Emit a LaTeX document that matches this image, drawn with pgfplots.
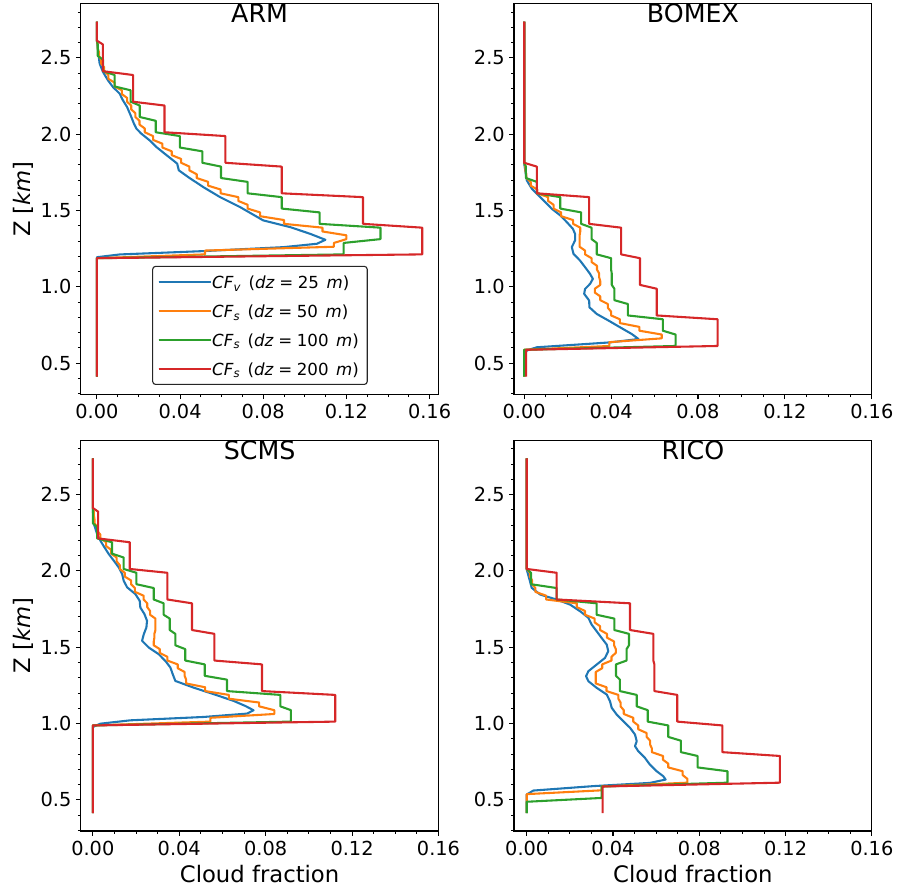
\documentclass[border=0pt]{standalone}
\usepackage{fontspec}
\setmainfont{DejaVu Sans}
\usepackage{pgfplots}
\pgfplotsset{compat=1.18}
\definecolor{tabblue}{HTML}{1F77B4}
\definecolor{taborange}{HTML}{FF7F0E}
\definecolor{tabgreen}{HTML}{2CA02C}
\definecolor{tabred}{HTML}{D62728}
\newcommand{\ticksize}{\fontsize{19.4}{23}\selectfont}
\newcommand{\legsize}{\fontsize{16.7}{20}\selectfont}
\newcommand{\labsize}{\fontsize{22.8}{27}\selectfont}
\newcommand{\titlesize}{\fontsize{25.4}{30}\selectfont}
\newcommand{\leg}[2]{\textit{CF}\textsubscript{\textit{#1}}\hspace{0.45em}(\textit{dz}\hspace{0.28em}=\hspace{0.28em}#2\hspace{0.45em}\textit{m})\hspace*{3.4bp}}
\pgfplotsset{
  panel/.style={
    scale only axis, width=357.8bp, height=390.5bp, anchor=south west,
    ymin=0.296, ymax=2.854, xmax=0.16,
    xtick={0,0.04,0.08,0.12,0.16},
    minor xtick={0.01,0.02,0.03,0.05,0.06,0.07,0.09,0.10,0.11,0.13,0.14,0.15},
    ytick={0.5,1.0,1.5,2.0,2.5},
    minor ytick={0.3,0.4,0.6,0.7,0.8,0.9,1.1,1.2,1.3,1.4,1.6,1.7,1.8,1.9,2.1,2.2,2.3,2.4,2.6,2.7,2.8},
    tick pos=left, tick align=outside,
    major tick length=4.9bp, minor tick length=2.8bp,
    every tick/.append style={black, line width=1.1bp},
    every minor tick/.append style={line width=0.9bp},
    axis line style={black, line width=1.1bp},
    /pgf/number format/assume math mode=true,
    xticklabel style={/pgf/number format/fixed, /pgf/number format/fixed zerofill, /pgf/number format/precision=2, inner sep=0pt, anchor=north},
    yticklabel style={/pgf/number format/fixed, /pgf/number format/fixed zerofill, /pgf/number format/precision=1, inner sep=0pt, anchor=east},
    xticklabel shift=4.9bp, yticklabel shift=4.2bp,
    tick label style={font=\ticksize},
    title style={at={(axis description cs:0.5,0.936)}, anchor=base, font=\titlesize, inner sep=0pt},
    xlabel style={at={(axis description cs:0.5,-0.1306)}, anchor=base, font=\labsize, inner sep=0pt},
    ylabel style={at={(axis description cs:-0.1613,0.5)}, anchor=center, font=\labsize, inner sep=0pt},
    every axis plot/.append style={line width=2.08bp, line join=round, no markers},
    legend image code/.code={\draw[##1] (0bp,0bp) -- (36.7bp,0bp); \path (0bp,0bp) -- (52.4bp,0bp);},
  }
}
\begin{document}
\begin{tikzpicture}
\useasboundingbox (0,0) rectangle (899bp,886bp);
% ARM
\begin{axis}[panel, at={(80.7bp,491.7bp)}, xmin=-0.0078, xmax=0.1643, title={ARM}, ylabel={Z [\textit{km}]},
  legend style={at={(axis description cs:0.501,0.0238)}, anchor=south, draw=black!85, line width=1.1bp, rounded corners=3bp,
    font=\legsize, inner xsep=5bp, inner ysep=7.7bp, row sep=12.9bp, column sep=0pt,
    nodes={inner sep=0pt, text height=14.5bp, text depth=1.5bp}},
  legend cell align=left]
\addplot[tabblue] coordinates {(0,2.7375)(0,2.612)(0.0013,2.463)(0.0029,2.408)(0.0053,2.353)(0.0077,2.309)(0.0109,2.266)(0.0125,2.222)(0.0145,2.178)(0.0162,2.124)(0.0178,2.069)(0.0190,2.036)(0.0214,2.003)(0.0254,1.959)(0.0286,1.916)(0.0326,1.872)(0.0367,1.828)(0.0386,1.807)(0.0394,1.763)(0.0439,1.719)(0.0512,1.653)(0.0592,1.588)(0.0689,1.522)(0.0745,1.478)(0.0800,1.435)(0.0930,1.391)(0.1026,1.347)(0.1099,1.308)(0.1058,1.282)(0.0898,1.260)(0.0512,1.234)(0.0109,1.212)(0,1.194)(0,0.4125)};
\addlegendentry{\leg{v}{25}}
\addplot[taborange] coordinates {(0,2.7375)(0,2.6125)(0.0003,2.5875)(0.0003,2.5625)(0.001,2.5375)(0.001,2.5125)(0.002,2.4875)(0.002,2.4625)(0.0035,2.4375)(0.0035,2.4125)(0.0055,2.3875)(0.0055,2.3625)(0.0085,2.3375)(0.0085,2.3125)(0.012,2.2875)(0.012,2.2625)(0.0145,2.2375)(0.0145,2.2125)(0.0165,2.1875)(0.0165,2.1625)(0.0185,2.1375)(0.0185,2.1125)(0.0205,2.0875)(0.0205,2.0625)(0.023,2.0375)(0.023,2.0125)(0.027,1.9875)(0.027,1.9625)(0.0315,1.9375)(0.0315,1.9125)(0.036,1.8875)(0.036,1.8625)(0.0405,1.8375)(0.0405,1.8125)(0.0445,1.7875)(0.0445,1.7625)(0.048,1.7375)(0.048,1.7125)(0.0535,1.6875)(0.0535,1.6625)(0.0595,1.6375)(0.0595,1.6125)(0.068,1.5875)(0.068,1.5625)(0.0725,1.5375)(0.0725,1.5125)(0.0785,1.4875)(0.0785,1.4625)(0.090,1.4375)(0.090,1.4125)(0.1085,1.3875)(0.1085,1.3625)(0.120,1.3375)(0.120,1.3125)(0.114,1.2875)(0.114,1.2625)(0.052,1.2375)(0.052,1.2125)(0,1.1875)(0,0.4125)};
\addlegendentry{\leg{s}{50}}
\addplot[tabgreen] coordinates {(0,2.7375)(0,2.6125)(0.0004,2.5875)(0.0004,2.5125)(0.003,2.4875)(0.003,2.4125)(0.0085,2.3875)(0.0085,2.3125)(0.0162,2.2875)(0.0162,2.2125)(0.0206,2.1875)(0.0206,2.1125)(0.0283,2.0875)(0.0283,2.0125)(0.0399,1.9875)(0.0399,1.9125)(0.0507,1.8875)(0.0507,1.8125)(0.0597,1.7875)(0.0597,1.7125)(0.0725,1.6875)(0.0725,1.6125)(0.0889,1.5875)(0.0889,1.5125)(0.1071,1.4875)(0.1071,1.4125)(0.1364,1.3875)(0.1364,1.3125)(0.1187,1.2875)(0.1187,1.2125)(0,1.1875)(0,0.4125)};
\addlegendentry{\leg{s}{100}}
\addplot[tabred] coordinates {(0,2.7375)(0,2.6125)(0.0029,2.5875)(0.0029,2.4125)(0.0174,2.3875)(0.0174,2.2125)(0.0325,2.1875)(0.0325,2.0125)(0.0618,1.9875)(0.0618,1.8125)(0.0889,1.7875)(0.0889,1.6125)(0.128,1.5875)(0.128,1.4125)(0.1565,1.3875)(0.1565,1.2125)(0,1.1875)(0,0.4125)};
\addlegendentry{\leg{s}{200}}
\end{axis}
% BOMEX
\begin{axis}[panel, at={(514bp,491.7bp)}, xmin=-0.0047, title={BOMEX}]
\addplot[tabblue] coordinates {(0,2.7375)(0,1.807)(0.0012,1.697)(0.0035,1.643)(0.0066,1.599)(0.0097,1.555)(0.0127,1.511)(0.0166,1.468)(0.0196,1.424)(0.0224,1.380)(0.0234,1.347)(0.0234,1.304)(0.0219,1.260)(0.0227,1.216)(0.0257,1.172)(0.0280,1.129)(0.0303,1.085)(0.0316,1.052)(0.0303,1.019)(0.0280,0.986)(0.0276,0.954)(0.0299,0.910)(0.0300,0.866)(0.0334,0.822)(0.0388,0.779)(0.0441,0.735)(0.0495,0.691)(0.0526,0.658)(0.0395,0.636)(0.0058,0.604)(0.0012,0.583)(0,0.549)(0,0.4125)};
\addplot[taborange] coordinates {(0,2.7375)(0,1.8125)(0.0005,1.7875)(0.0005,1.7625)(0.001,1.7375)(0.001,1.7125)(0.003,1.6875)(0.003,1.6625)(0.006,1.6375)(0.006,1.6125)(0.011,1.5875)(0.011,1.5625)(0.0135,1.5375)(0.0135,1.5125)(0.017,1.4875)(0.017,1.4625)(0.0225,1.4375)(0.0225,1.4125)(0.0258,1.3875)(0.0258,1.3625)(0.0255,1.3375)(0.0255,1.3125)(0.0255,1.2875)(0.0255,1.2625)(0.028,1.2375)(0.028,1.2125)(0.031,1.1875)(0.031,1.1625)(0.0335,1.1375)(0.0335,1.1125)(0.0345,1.0875)(0.0345,1.0625)(0.035,1.0375)(0.035,1.0125)(0.0325,0.9875)(0.0325,0.9625)(0.035,0.9375)(0.035,0.9125)(0.0385,0.8875)(0.0385,0.8625)(0.040,0.8375)(0.040,0.8125)(0.044,0.7875)(0.044,0.7625)(0.053,0.7375)(0.053,0.7125)(0.0633,0.6875)(0.0633,0.6625)(0.0392,0.6375)(0.0392,0.6125)(0,0.5875)(0,0.4125)};
\addplot[tabgreen] coordinates {(0,2.7375)(0,1.8125)(0.0008,1.7875)(0.0008,1.7125)(0.0058,1.6875)(0.0058,1.6125)(0.0166,1.5875)(0.0166,1.5125)(0.0262,1.4875)(0.0262,1.4125)(0.031,1.3875)(0.031,1.3125)(0.0334,1.2875)(0.0334,1.2125)(0.040,1.1875)(0.040,1.1125)(0.0403,1.0875)(0.0403,1.0125)(0.0415,0.9875)(0.0415,0.9125)(0.0477,0.8875)(0.0477,0.8125)(0.0638,0.7875)(0.0638,0.7125)(0.0697,0.6875)(0.0697,0.6125)(0,0.5875)(0,0.4125)};
\addplot[tabred] coordinates {(0,2.7375)(0,1.8125)(0.0058,1.7875)(0.0058,1.6125)(0.0299,1.5875)(0.0299,1.4125)(0.0446,1.3875)(0.0446,1.2125)(0.0533,1.1875)(0.0533,1.0125)(0.061,0.9875)(0.061,0.8125)(0.089,0.7875)(0.089,0.6125)(0.0009,0.5875)(0.0009,0.4125)};
\end{axis}
% SCMS
\begin{axis}[panel, at={(80.7bp,55bp)}, xmin=-0.0056, title={SCMS}, ylabel={Z [\textit{km}]}, xlabel={Cloud fraction}]
\addplot[tabblue] coordinates {(0,2.7375)(0,2.40)(0.0005,2.307)(0.002,2.242)(0.0035,2.198)(0.0054,2.154)(0.0074,2.110)(0.0097,2.067)(0.0120,2.023)(0.0136,1.979)(0.0143,1.935)(0.0159,1.892)(0.0197,1.848)(0.0217,1.804)(0.0220,1.760)(0.0239,1.717)(0.0251,1.673)(0.0248,1.629)(0.0236,1.585)(0.0228,1.542)(0.0259,1.498)(0.0305,1.454)(0.0336,1.410)(0.0359,1.367)(0.0370,1.323)(0.0382,1.279)(0.0467,1.235)(0.0560,1.192)(0.0652,1.148)(0.0706,1.115)(0.0744,1.087)(0.0714,1.065)(0.0513,1.043)(0.0174,1.021)(0.0035,0.999)(0,0.977)(0,0.4125)};
\addplot[taborange] coordinates {(0,2.7375)(0,2.4125)(0.0005,2.3875)(0.0005,2.3625)(0.0008,2.3375)(0.0008,2.3125)(0.002,2.2875)(0.002,2.2625)(0.0035,2.2375)(0.0035,2.2125)(0.0062,2.1875)(0.0062,2.1625)(0.0085,2.1375)(0.0085,2.1125)(0.011,2.0875)(0.011,2.0625)(0.0125,2.0375)(0.0125,2.0125)(0.0148,1.9875)(0.0148,1.9625)(0.0177,1.9375)(0.0177,1.9125)(0.0195,1.8875)(0.0195,1.8625)(0.0235,1.8375)(0.0235,1.8125)(0.0252,1.7875)(0.0252,1.7625)(0.0265,1.7375)(0.0265,1.7125)(0.029,1.6875)(0.029,1.6625)(0.029,1.6375)(0.029,1.6125)(0.0285,1.5875)(0.0285,1.5625)(0.0282,1.5375)(0.0282,1.5125)(0.031,1.4875)(0.031,1.4625)(0.0345,1.4375)(0.0345,1.4125)(0.0393,1.3875)(0.0393,1.3625)(0.0425,1.3375)(0.0425,1.3125)(0.0432,1.2875)(0.0432,1.2625)(0.052,1.2375)(0.052,1.2125)(0.063,1.1875)(0.063,1.1625)(0.077,1.1375)(0.077,1.1125)(0.084,1.0875)(0.084,1.0625)(0.0544,1.0375)(0.0544,1.0125)(0,0.9875)(0,0.4125)};
\addplot[tabgreen] coordinates {(0,2.7375)(0,2.3125)(0.002,2.2875)(0.002,2.2125)(0.0089,2.1875)(0.0089,2.1125)(0.0143,2.0875)(0.0143,2.0125)(0.0202,1.9875)(0.0202,1.9125)(0.0282,1.8875)(0.0282,1.8125)(0.0328,1.7875)(0.0328,1.7125)(0.0356,1.6875)(0.0356,1.6125)(0.0382,1.5875)(0.0382,1.5125)(0.0428,1.4875)(0.0428,1.4125)(0.0518,1.3875)(0.0518,1.3125)(0.0621,1.2875)(0.0621,1.2125)(0.0868,1.1875)(0.0868,1.1125)(0.0917,1.0875)(0.0917,1.0125)(0,0.9875)(0,0.4125)};
\addplot[tabred] coordinates {(0,2.7375)(0,2.4125)(0.0025,2.3875)(0.0025,2.2125)(0.0171,2.1875)(0.0171,2.0125)(0.0345,1.9875)(0.0345,1.8125)(0.0459,1.7875)(0.0459,1.6125)(0.0563,1.5875)(0.0563,1.4125)(0.0783,1.3875)(0.0783,1.2125)(0.1122,1.1875)(0.1122,1.0125)(0,0.9875)(0,0.4125)};
\end{axis}
% RICO
\begin{axis}[panel, at={(514bp,55bp)}, xmin=-0.0059, title={RICO}, xlabel={Cloud fraction}]
\addplot[tabblue] coordinates {(0,2.7375)(0,2.009)(0.0015,1.932)(0.0023,1.889)(0.0062,1.845)(0.0139,1.812)(0.0201,1.779)(0.0247,1.736)(0.0286,1.692)(0.0301,1.648)(0.0324,1.605)(0.0347,1.561)(0.0371,1.517)(0.0378,1.474)(0.0363,1.430)(0.0324,1.386)(0.0286,1.343)(0.0275,1.310)(0.0286,1.277)(0.0324,1.234)(0.0371,1.190)(0.0386,1.146)(0.0394,1.103)(0.0417,1.059)(0.0448,1.015)(0.0479,0.972)(0.0502,0.928)(0.0510,0.884)(0.0502,0.852)(0.0517,0.819)(0.0548,0.775)(0.0571,0.731)(0.0602,0.688)(0.0633,0.655)(0.0644,0.633)(0.0571,0.611)(0.0309,0.590)(0.0031,0.561)(0,0.535)(0,0.4125)};
\addplot[taborange] coordinates {(0,2.7375)(0,2.0125)(0.0015,1.9875)(0.0015,1.9625)(0.0025,1.9375)(0.0025,1.9125)(0.004,1.8875)(0.004,1.8625)(0.009,1.8375)(0.009,1.8125)(0.0232,1.7875)(0.0232,1.7625)(0.027,1.7375)(0.027,1.7125)(0.0315,1.6875)(0.0315,1.6625)(0.034,1.6375)(0.034,1.6125)(0.0372,1.5875)(0.0372,1.5625)(0.0405,1.5375)(0.0405,1.5125)(0.0413,1.4875)(0.0413,1.4625)(0.0393,1.4375)(0.0393,1.4125)(0.035,1.3875)(0.035,1.3625)(0.032,1.3375)(0.032,1.3125)(0.032,1.2875)(0.032,1.2625)(0.037,1.2375)(0.037,1.2125)(0.0425,1.1875)(0.0425,1.1625)(0.0435,1.1375)(0.0435,1.1125)(0.045,1.0875)(0.045,1.0625)(0.0494,1.0375)(0.0494,1.0125)(0.0517,0.9875)(0.0517,0.9625)(0.0556,0.9375)(0.0556,0.9125)(0.0572,0.8875)(0.0572,0.8625)(0.058,0.8375)(0.058,0.8125)(0.0632,0.7875)(0.0632,0.7625)(0.0656,0.7375)(0.0656,0.7125)(0.0723,0.6875)(0.0723,0.6625)(0.0745,0.6375)(0.0745,0.6125)(0.0347,0.5875)(0.0347,0.5625)(0,0.5375)(0,0.4125)};
\addplot[tabgreen] coordinates {(0,2.7375)(0,2.0125)(0.002,1.9875)(0.002,1.9125)(0.0139,1.8875)(0.0139,1.8125)(0.0324,1.7875)(0.0324,1.7125)(0.0406,1.6875)(0.0406,1.6125)(0.0474,1.5875)(0.0474,1.5125)(0.0463,1.4875)(0.0463,1.4125)(0.0414,1.3875)(0.0414,1.3125)(0.0432,1.2875)(0.0432,1.2125)(0.051,1.1875)(0.051,1.1125)(0.0561,1.0875)(0.0561,1.0125)(0.0656,0.9875)(0.0656,0.9125)(0.0715,0.8875)(0.0715,0.8125)(0.0792,0.7875)(0.0792,0.7125)(0.0931,0.6875)(0.0931,0.6125)(0.0347,0.5875)(0.0347,0.5125)(0,0.4875)(0,0.4125)};
\addplot[tabred] coordinates {(0,2.7375)(0,2.0125)(0.0139,1.9875)(0.0139,1.8125)(0.0479,1.7875)(0.0479,1.6125)(0.0587,1.5875)(0.0587,1.4125)(0.0592,1.3875)(0.0592,1.2125)(0.0698,1.1875)(0.0698,1.0125)(0.0907,0.9875)(0.0907,0.8125)(0.1174,0.7875)(0.1174,0.6125)(0.0352,0.5875)(0.0352,0.4125)};
\end{axis}
\end{tikzpicture}
\end{document}
